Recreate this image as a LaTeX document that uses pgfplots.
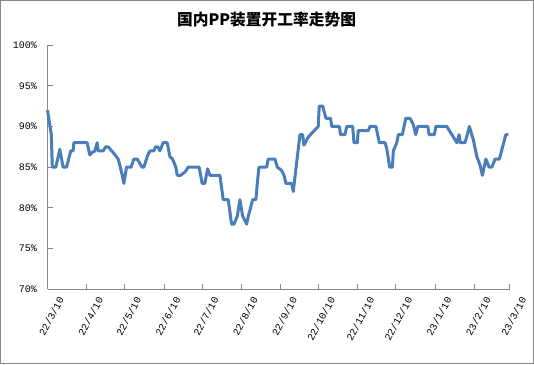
\documentclass[border=0pt]{standalone}
\usepackage{pgfplots}
\pgfplotsset{compat=1.18}
\usepackage{fontspec}
\setmainfont{Liberation Sans}
\newfontfamily\lmono{Liberation Mono}
\newfontfamily\cjk{Noto Sans CJK SC}
\definecolor{lineblue}{RGB}{74,126,187}
\definecolor{axgray}{RGB}{134,134,134}
\begin{document}
\begin{tikzpicture}
\path[use as bounding box] (-35.625pt,-56.025pt) rectangle (364.875pt,216.975pt);
\draw[axgray, line width=0.75pt] (-35.25pt,-55.65pt) rectangle (364.5pt,216.6pt);
\begin{axis}[
  at={(0pt,0pt)}, anchor=south west,
  scale only axis, width=346.8pt, height=183.2pt,
  xmin=0, xmax=365, ymin=70, ymax=100,
  axis x line*=bottom, axis y line*=left,
  axis line style={axgray, line width=0.75pt},
  tick align=inside,
  major tick length=3.75pt,
  tick style={axgray, line width=0.75pt},
  xtick={0,31,61,92,122,153,184,214,245,275,306,337,365},
  xticklabels={22/3/10,22/4/10,22/5/10,22/6/10,22/7/10,22/8/10,22/9/10,22/10/10,22/11/10,22/12/10,23/1/10,23/2/10,23/3/10},
  ytick={70,75,80,85,90,95,100},
  yticklabels={70\%,75\%,80\%,85\%,90\%,95\%,100\%},
  /pgf/number format/assume math mode=true,
  ticklabel style={font=\lmono\fontsize{7.5}{8}\selectfont, inner sep=0pt},
  xticklabel style={rotate=62, anchor=east, yshift=-12pt, xshift=-0.6pt},
  yticklabel style={anchor=east, xshift=-7.7pt},
  clip=false,
]
\addplot[lineblue, line width=2.25pt, line join=round] coordinates {
(0,92) (1.5,90.5) (3.0,89) (3.8,85) (6.6,85) (9.7,87.2) (12.3,85) (15.0,85)
(18.4,87) (20.2,87) (20.8,88) (31.3,88) (33.4,86.5) (35.2,86.8) (37.4,87)
(39.2,88) (40.0,87) (43.9,87) (46.0,87.5) (47.9,87.5) (51.8,86.8) (55.8,86)
(57.5,85) (59,84) (60.3,83) (62.4,85) (66,85) (68.2,86) (70.8,86) (74.7,85)
(76.1,85) (78.7,86.3) (80.8,87) (84,87) (85.3,87.5) (87.1,87.5) (88.7,87)
(91.3,88) (94.5,88) (96.6,86.3) (98.7,86) (101.3,85) (102.4,84) (105.1,84)
(108.5,84.4) (111.1,85) (119.7,85) (122.1,83) (124.2,83) (126.4,84.8)
(128.2,84) (136.1,84) (138.7,81) (142.7,81) (145.3,78) (147.2,78) (149.8,79)
(151.9,81) (154,79) (157.2,78) (158.5,79) (160.3,80) (161.9,81) (164.5,81)
(165.6,83) (166.9,85) (173,85) (174.2,86) (179.5,86) (181.4,85) (184.8,84.6)
(186.7,84) (188.2,83) (192.7,83) (194,82) (196.7,85.6) (199.3,89) (201.4,89)
(202.4,87.7) (205.8,88.7) (213.7,90) (214.5,92.5) (217.2,92.5) (219.8,91)
(223.5,91) (224.3,90) (230.3,90) (231.4,89) (234.8,89) (236.2,90) (240.9,90)
(241.9,88) (244.5,88) (245.3,89.5) (253.2,89.5) (254.6,90) (259.3,90)
(261.9,88) (266.4,88) (267.8,87.3) (270.1,85) (272.2,85) (273,87) (275.7,88)
(276.9,89) (280.1,89) (282.8,91) (286.2,91) (288.8,90.2) (290.7,89) (292.3,90)
(300.2,90) (301.2,89) (305.4,89) (306.5,90) (315.2,90) (323.1,88) (324.9,89)
(325.7,88) (329.6,88) (333,90) (336.2,88.3) (338.9,86.3) (341.5,85.2)
(343.3,84) (346,86) (348.6,85) (350.7,85) (353.3,86) (356.7,86) (361.8,89)
(363.8,89)
};
\end{axis}
\node[font=\cjk\bfseries\fontsize{11.8}{13}\selectfont, inner sep=0pt] at (164.3pt,202.2pt) {国内PP装置开工率走势图};
\end{tikzpicture}
\end{document}
